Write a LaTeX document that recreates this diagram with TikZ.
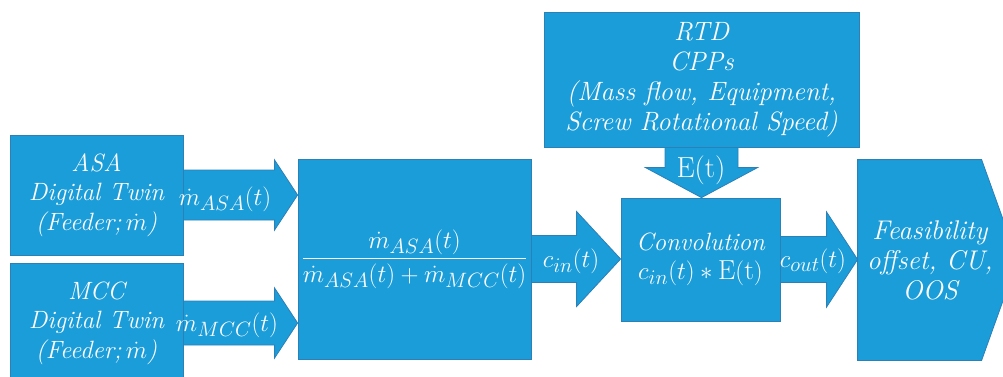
\documentclass[tikz,border=0pt]{standalone}
\usepackage{fontspec}
\usepackage{amsmath}
\usetikzlibrary{calc, backgrounds}

\definecolor{tileBlue}{HTML}{1B9DD9}
\definecolor{edgeBlue}{HTML}{2B80B8}

\newcommand{\bigfont}{\fontsize{25}{29.5}\selectfont}
\newcommand{\mathfont}{\fontsize{27.5}{31}\selectfont}

% block arrows: from, to, shaft width, head width, head length
\newcommand{\harrow}[5]{%
  \draw[flow] let \p1=(#1), \p2=(#2) in
    (\x1,\y1+#3/2) -- (\x2-#5,\y1+#3/2) -- (\x2-#5,\y1+#4/2) -- (\x2,\y1)
    -- (\x2-#5,\y1-#4/2) -- (\x2-#5,\y1-#3/2) -- (\x1,\y1-#3/2) -- cycle;}
\newcommand{\varrow}[5]{%
  \draw[flow] let \p1=(#1), \p2=(#2) in
    (\x1-#3/2,\y1) -- (\x1-#3/2,\y2+#5) -- (\x1-#4/2,\y2+#5) -- (\x1,\y2)
    -- (\x1+#4/2,\y2+#5) -- (\x1+#3/2,\y2+#5) -- (\x1+#3/2,\y1) -- cycle;}

\begin{document}
\begin{tikzpicture}[
    x=1pt, y=-1pt,
    font=\bigfont,
    box/.style={rectangle, draw=edgeBlue, line width=0.8pt, fill=tileBlue,
                text=white, align=center, inner sep=0pt, font=\bigfont\itshape},
    flow/.style={draw=edgeBlue, line width=0.8pt, fill=tileBlue},
    lbl/.style={text=white, inner sep=0pt, font=\fontsize{29}{33}\selectfont}
  ]
  \useasboundingbox (0,0) rectangle (1003,376);

  %% ---- feeders ----
  \node[box, minimum width=173pt, minimum height=120pt] (asa) at (96.5,195)
       {ASA\\Digital Twin\\(Feeder;\,$\dot{m}$)};
  \node[box, minimum width=173pt, minimum height=120pt] (mcc) at (96.5,323)
       {MCC\\Digital Twin\\(Feeder;\,$\dot{m}$)};

  %% ---- mixing ----
  \node[box, minimum width=233pt, minimum height=200pt, font=\mathfont] (mix) at (414.5,259)
       {$\dfrac{\dot{m}_{ASA}(t)}{\dot{m}_{ASA}(t)+\dot{m}_{MCC}(t)}$};

  %% ---- RTD and convolution ----
  \node[box, minimum width=315pt, minimum height=135pt, font=\fontsize{26.5}{30}\selectfont\itshape] (rtd) at (701.5,79.5)
       {RTD\\CPPs\\(Mass flow, Equipment,\\Screw Rotational Speed)};
  \node[box, minimum width=159pt, minimum height=123pt] (conv) at (700.5,259.5)
       {Convolution\\{\mathfont$c_{in}(t)*\mathrm{E(t)}$}};

  %% ---- output ----
  \node[box, draw=none, fill=none, minimum width=144pt, minimum height=200pt,
        font=\fontsize{27}{30}\selectfont\itshape] (feas) at (930,260)
       {Feasibility\\offset, CU,\\OOS};
  \begin{scope}[on background layer]
    \draw[flow] (feas.north west) -- ++(124,0) -- ($(feas.west)+(160,0)$)
      -- ($(feas.south west)+(124,0)$) -- (feas.south west) -- cycle;
  \end{scope}

  %% ---- block arrows ----
  \harrow{asa.east}{asa.east -| mix.west}{50}{70}{23}
  \harrow{mcc.east}{mcc.east -| mix.west}{44}{70}{23}
  \harrow{mix.east}{mix.east -| conv.west}{47}{95}{44}
  \harrow{conv.east}{conv.east -| feas.west}{46}{95}{31}
  \varrow{rtd.south}{rtd.south |- conv.north}{73}{112}{30}

  %% ---- arrow labels ----
  \node[lbl] (qASA) at (225,199) {$\dot{m}_{ASA}(t)$};
  \node[lbl] (qMCC) at (227,325) {$\dot{m}_{MCC}(t)$};
  \node[lbl] (cIn)  at (571,261) {$c_{in}(t)$};
  \node[lbl] (cOut) at (813,261) {$c_{out}(t)$};
  \node[lbl] (eT)   at (701,170) {E(t)};

\end{tikzpicture}
\end{document}
